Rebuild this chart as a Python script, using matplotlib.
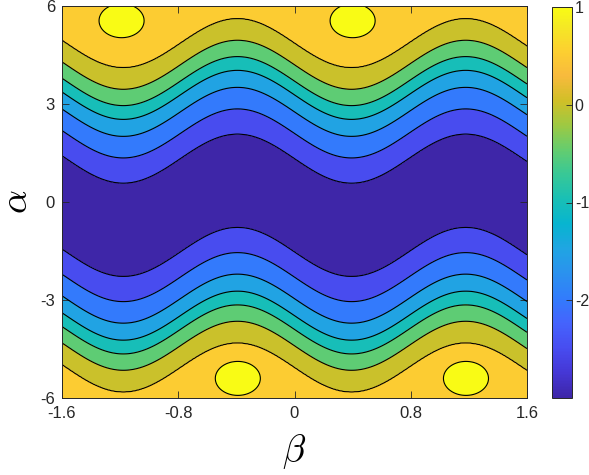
import numpy as np
import matplotlib
matplotlib.use('Agg')
import matplotlib.pyplot as plt
from matplotlib.colors import LinearSegmentedColormap, Normalize
from matplotlib.cm import ScalarMappable

plt.rcParams['font.family'] = ['Liberation Sans', 'DejaVu Sans']
plt.rcParams['mathtext.fontset'] = 'cm'
plt.rcParams['axes.unicode_minus'] = False
plt.rcParams['contour.negative_linestyle'] = 'solid'

# parula (sampled)
parula_rgb = [
    (0.2422, 0.1504, 0.6603), (0.2706, 0.2147, 0.8364), (0.2813, 0.3006, 0.9414),
    (0.2699, 0.3892, 0.9906), (0.1963, 0.4847, 0.9892), (0.1687, 0.5703, 0.9359),
    (0.1248, 0.6459, 0.8883), (0.0297, 0.7082, 0.8163), (0.0964, 0.7500, 0.7120),
    (0.2161, 0.7843, 0.5923), (0.3909, 0.8029, 0.4354), (0.6174, 0.7876, 0.2612),
    (0.8203, 0.7498, 0.1535), (0.9728, 0.7298, 0.2394), (0.9892, 0.8136, 0.1885),
    (0.9597, 0.9135, 0.1423), (0.9769, 0.9839, 0.0805),
]
parula_pos = [0, 4, 8, 12, 16, 20, 24, 28, 32, 36, 40, 44, 48, 52, 56, 60, 63]
parula = LinearSegmentedColormap.from_list(
    'parula', [(p / 63, c) for p, c in zip(parula_pos, parula_rgb)])

# contour levels (value range -3 .. 1)
levels = [-3, -2.5, -2, -1.5, -1, -0.5, 0, 0.5, 1, 1.5]
cbar_ticks = [-2, -1, 0, 1]
xticks = [-1.6, -0.8, 0, 0.8, 1.6]
yticks = [-6, -3, 0, 3, 6]

# value vs distance from the wavy centre line
edge_dist = [0, 1.43, 2.2, 2.86, 3.38, 3.8, 4.3, 4.96, 7.5]
edge_val = [-3, -2.5, -2, -1.5, -1, -0.5, 0, 0.5, 0.95]

# centre line wave
wave_amp = 0.75
wave_k = 4
wave_off = -0.1

# yellow spots
blob_beta = [-1.19, 0.40, -0.39, 1.18]
blob_alpha = [5.55, 5.55, -5.4, -5.4]
blob_rb = 0.155
blob_ra = 0.52

beta = np.linspace(-1.6, 1.6, 500)
alpha = np.linspace(-6, 6, 500)
B, A = np.meshgrid(beta, alpha)

centre = wave_off - wave_amp * np.sin(wave_k * B)
Z = np.interp(np.abs(A - centre), edge_dist, edge_val)
for bb, aa in zip(blob_beta, blob_alpha):
    r2 = ((B - bb) / blob_rb) ** 2 + ((A - aa) / blob_ra) ** 2
    Z = np.maximum(Z, 1.0 + 0.3 * (1 - r2))

norm = Normalize(vmin=-3, vmax=1)
fill_colors = [parula(norm(l)) for l in levels[:-1]]

fig = plt.figure(figsize=(5.89, 4.75), dpi=100)
ax = fig.add_axes([62 / 589, 77 / 475, 465 / 589, 392 / 475])

ax.contourf(B, A, Z, levels=levels, colors=fill_colors)
ax.contour(B, A, Z, levels=levels[1:-1], colors='k', linewidths=0.8,
           linestyles='solid')

ax.set_xlim(-1.6, 1.6)
ax.set_ylim(-6, 6)
ax.set_xticks(xticks)
ax.set_xticklabels(['-1.6', '-0.8', '0', '0.8', '1.6'])
ax.set_yticks(yticks)
ax.set_yticklabels([str(v) for v in yticks])
ax.tick_params(direction='in', top=True, right=True, length=5, width=0.6,
               labelsize=12, colors='#262626', labelcolor='#262626')
ax.tick_params(axis='x', pad=6)
ax.tick_params(axis='y', pad=5)
for s in ax.spines.values():
    s.set_color('#262626')
    s.set_linewidth(0.7)

ax.set_xlabel(r'$\beta$', fontsize=27, labelpad=8)
ax.set_ylabel(r'$\alpha$', fontsize=27, labelpad=4)

cax = fig.add_axes([552 / 589, 77 / 475, 20 / 589, 391 / 475])
sm = ScalarMappable(norm=norm, cmap=parula)
cb = fig.colorbar(sm, cax=cax, ticks=cbar_ticks)
cb.ax.set_yticklabels([str(v) for v in cbar_ticks])
cb.ax.tick_params(direction='in', length=4, width=0.6, labelsize=11.5,
                  colors='#262626', labelcolor='#262626', pad=2)
cb.outline.set_linewidth(0.7)
cb.outline.set_edgecolor('#262626')

fig.savefig('out.png', dpi=100)
